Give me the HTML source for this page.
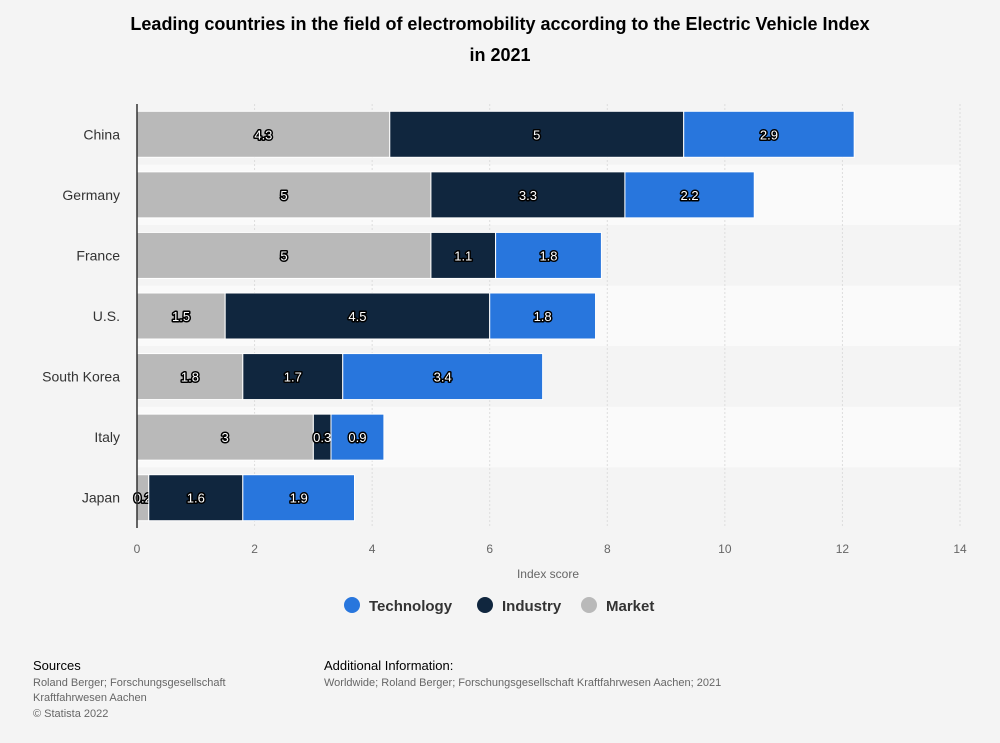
<!DOCTYPE html>
<html><head><meta charset="utf-8"><style>
body{margin:0;background:#f4f4f4;font-family:"Liberation Sans",sans-serif;}
#wrap{position:relative;width:1000px;height:743px;overflow:hidden;}
</style></head><body>
<div id="wrap">
<svg id="chart" width="1000" height="743">
<text x="500" y="30" text-anchor="middle" font-size="18" font-weight="bold" fill="#000">Leading countries in the field of electromobility according to the Electric Vehicle Index</text>
<text x="500" y="61" text-anchor="middle" font-size="18" font-weight="bold" fill="#000">in 2021</text>
<g id="plot"></g>
<text x="548" y="578" text-anchor="middle" font-size="12" fill="#666">Index score</text>
<g>
<g><circle cx="352" cy="605" r="8" fill="#2876dd"/><text x="369" y="611" font-size="15" font-weight="bold" fill="#333">Technology</text></g>
<g><circle cx="485" cy="605" r="8" fill="#10263e"/><text x="502" y="611" font-size="15" font-weight="bold" fill="#333">Industry</text></g>
<g><circle cx="589" cy="605" r="8" fill="#b9b9b9"/><text x="606" y="611" font-size="15" font-weight="bold" fill="#333">Market</text></g>
</g>
<text x="33" y="670" font-size="13" fill="#000">Sources</text>
<text x="33" y="686" font-size="11" fill="#666">Roland Berger; Forschungsgesellschaft</text>
<text x="33" y="701" font-size="11" fill="#666">Kraftfahrwesen Aachen</text>
<text x="33" y="717" font-size="11" fill="#666">© Statista 2022</text>
<text x="324" y="670" font-size="13" fill="#000">Additional Information:</text>
<text x="324" y="686" font-size="11" fill="#666">Worldwide; Roland Berger; Forschungsgesellschaft Kraftfahrwesen Aachen; 2021</text>
</svg>
</div>
<script>
const categories=["China","Germany","France","U.S.","South Korea","Italy","Japan"];
const market=[4.3,5,5,1.5,1.8,3,0.2];
const industry=[5,3.3,1.1,4.5,1.7,0.3,1.6];
const technology=[2.9,2.2,1.8,1.8,3.4,0.9,1.9];
const xTicks=[0,2,4,6,8,10,12,14];
const NS="http://www.w3.org/2000/svg";
const L=137,R=960,T=104,B=528,xMax=14;
const x=v=>L+v/xMax*(R-L);
const rowH=(B-T)/categories.length;
const plot=document.getElementById('plot');
function mk(tag,attrs){const e=document.createElementNS(NS,tag);for(const k in attrs)e.setAttribute(k,attrs[k]);plot.appendChild(e);return e;}
categories.forEach((c,i)=>{
  const band=mk('rect',{x:L,y:T+i*rowH,width:R-L,height:rowH,fill:i%2?'#fafafa':'#f4f4f4'});
  
  
});
xTicks.forEach(t=>{
  const g=mk('line',{x1:x(t),x2:x(t),y1:T,y2:B,stroke:'#ddd','stroke-dasharray':'2,2'});
  
  
  const lb=mk('text',{x:x(t),y:553,'text-anchor':'middle','font-size':12,fill:'#666'});
  lb.textContent=t;
  
  
});
const series=[[market,'#b9b9b9','market'],[industry,'#10263e','industry'],[technology,'#2876dd','technology']];
categories.forEach((c,i)=>{
  const cy=T+i*rowH+rowH/2;
  const lb=mk('text',{x:120,y:cy+5,'text-anchor':'end','font-size':14,fill:'#333'});
  lb.textContent=c;
  
  
  let acc=0;
  series.forEach(([arr,col,nm])=>{
    const v=arr[i];
    const r=mk('rect',{x:x(acc),y:cy-23,width:x(acc+v)-x(acc),height:46,fill:col,stroke:'#fff','stroke-width':1});
    
    
    const t=mk('text',{x:(x(acc)+x(acc+v))/2,y:cy+5,'text-anchor':'middle','font-size':13,fill:'#fff',stroke:'#000','stroke-width':3,'paint-order':'stroke','stroke-linejoin':'round'});
    t.textContent=v;
    
    
    acc+=v;
  });
});
const ax=mk('line',{x1:L,x2:L,y1:T,y2:B,stroke:'#333','stroke-width':1.5});


</script>
</body></html>
